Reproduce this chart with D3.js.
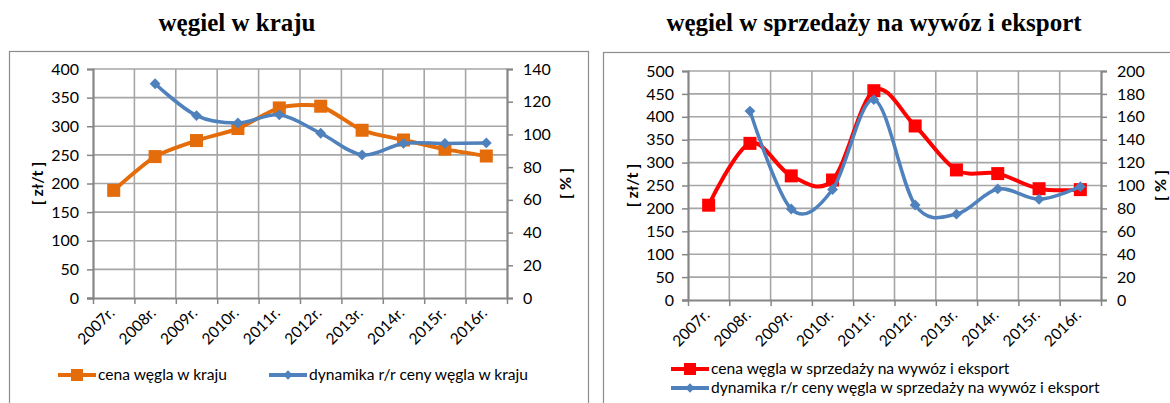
<!DOCTYPE html>
<html>
<head>
<meta charset="utf-8">
<script src="https://cdn.jsdelivr.net/npm/d3@7"></script>
<style>
  body { margin: 0; background: #fff; }
  svg text { font-family: Lato, "Open Sans", sans-serif; fill: #000; }
  .title { font-family: "Liberation Serif", "Times New Roman", serif; font-weight: bold; }
</style>
</head>
<body>
<div id="chart"></div>
<script>
/* Two coal price charts: domestic vs. export */

// Shared categories
const years = ["2007r.", "2008r.", "2009r.", "2010r.", "2011r.", "2012r.", "2013r.", "2014r.", "2015r.", "2016r."];

// Left chart: coal in the country
const cenaKraj = [188, 247, 275, 296, 332, 335, 293, 276, 260, 248];
const dynamikaKraj = [null, 131, 111.5, 107, 112, 100.7, 87.5, 94.5, 94.5, 94.8];
const leftTicksKraj = [0, 50, 100, 150, 200, 250, 300, 350, 400];
const rightTicksKraj = [0, 20, 40, 60, 80, 100, 120, 140];

// Right chart: coal sold for export
const cenaEksport = [207, 342, 271, 262, 457, 380, 284, 276, 243, 241];
const dynamikaEksport = [null, 165, 79.5, 96.5, 175, 83, 75, 97, 88, 99];
const leftTicksEksport = [0, 50, 100, 150, 200, 250, 300, 350, 400, 450, 500];
const rightTicksEksport = [0, 20, 40, 60, 80, 100, 120, 140, 160, 180, 200];

const width = 1170, height = 403;

let svg = d3.select("#chart")
    .append("svg")
    .attr("width", width)
    .attr("height", height);

function drawPanel(cfg) {
    let g = svg.append("g");

    // title above the box
    g.append("text")
        .attr("class", "title")
        .attr("x", cfg.titleX)
        .attr("y", 31)
        .attr("text-anchor", "middle")
        .style("font-size", "25px")
        .text(cfg.title);

    // chart frame (runs off the bottom of the picture)
    g.append("rect")
        .attr("x", cfg.box[0] + 0.5)
        .attr("y", cfg.box[1] + 0.5)
        .attr("width", cfg.box[2])
        .attr("height", cfg.box[3])
        .attr("fill", "none")
        .attr("stroke", "#8c8c8c")
        .attr("stroke-width", 1.2);

    const m = cfg.plot; // left, right, top, bottom

    let x = d3.scaleBand()
        .domain(years)
        .range([m.left, m.right]);

    let y = d3.scaleLinear()
        .domain([0, d3.max(cfg.leftTicks)])
        .range([m.bottom, m.top]);

    let y2 = d3.scaleLinear()
        .domain([0, d3.max(cfg.rightTicks)])
        .range([m.bottom, m.top]);

    // horizontal grid
    g.append("g")
        .selectAll("line")
        .data(cfg.leftTicks.slice(1))
        .join("line")
        .attr("x1", m.left).attr("x2", m.right)
        .attr("y1", d => y(d)).attr("y2", d => y(d))
        .attr("stroke", "#a6a6a6")
        .attr("stroke-width", 1.6);

    // vertical grid at category edges
    g.append("g")
        .selectAll("line")
        .data(years.slice(1))
        .join("line")
        .attr("x1", d => x(d)).attr("x2", d => x(d))
        .attr("y1", m.top).attr("y2", m.bottom)
        .attr("stroke", "#a6a6a6")
        .attr("stroke-width", 1.6);

    // left axis
    let yAxis = g.append("g")
        .attr("transform", `translate(${m.left},0)`)
        .call(d3.axisLeft(y).tickValues(cfg.leftTicks).tickSize(6).tickPadding(8));

    // right axis
    let y2Axis = g.append("g")
        .attr("transform", `translate(${m.right},0)`)
        .call(d3.axisRight(y2).tickValues(cfg.rightTicks).tickSize(6).tickPadding(10));

    // bottom axis, ticks at category edges
    let xEdge = d3.scaleLinear().domain([0, years.length]).range([m.left, m.right]);
    let xAxis = g.append("g")
        .attr("transform", `translate(0,${m.bottom})`)
        .call(d3.axisBottom(xEdge).ticks(years.length).tickSize(6).tickFormat(""));

    for (let a of [yAxis, y2Axis, xAxis]) {
        a.select(".domain").attr("stroke", "#868686").attr("stroke-width", 2.2);
        a.selectAll(".tick line").attr("stroke", "#868686").attr("stroke-width", 1.5);
        a.selectAll("text").style("font-size", "16px").style("font-family", "Lato, sans-serif");
    }
    xAxis.select(".domain").attr("d", `M${m.left - 6},0.5H${m.right}`);

    // rotated year labels
    g.append("g")
        .selectAll("text")
        .data(years)
        .join("text")
        .attr("transform", d => `translate(${x(d) + x.bandwidth() / 2 - 2},${m.bottom + 12}) rotate(-45)`)
        .attr("text-anchor", "end")
        .attr("dy", "0.35em")
        .style("font-size", "15.5px")
        .text(d => d);

    // axis titles
    g.append("text")
        .attr("transform", `translate(${cfg.yTitleX},${(m.top + m.bottom) / 2}) rotate(-90)`)
        .attr("text-anchor", "middle")
        .attr("dy", "0.35em")
        .style("font-size", "16px")
        .style("font-weight", "bold")
        .text("[ zł/t ]");

    g.append("text")
        .attr("transform", `translate(${cfg.y2TitleX},${(m.top + m.bottom) / 2}) rotate(-90)`)
        .attr("text-anchor", "middle")
        .attr("dy", "0.35em")
        .style("font-size", "16px")
        .style("font-weight", "bold")
        .text("[ % ]");

    const cx = i => x(years[i]) + x.bandwidth() / 2;

    // blue dynamics line (right axis)
    let dyn = cfg.dyn.map((v, i) => [i, v]).filter(d => d[1] != null);
    let lineDyn = d3.line()
        .x(d => cx(d[0]))
        .y(d => y2(d[1]))
        .curve(d3.curveCardinal.tension(0));

    // price line (left axis)
    let price = cfg.price.map((v, i) => [i, v]);
    let linePrice = d3.line()
        .x(d => cx(d[0]))
        .y(d => y(d[1]))
        .curve(d3.curveCardinal.tension(cfg.priceTension));

    const drawPrice = () => {
        g.append("path")
            .attr("d", linePrice(price))
            .attr("fill", "none")
            .attr("stroke", cfg.priceColor)
            .attr("stroke-width", 4);
        g.append("g")
            .selectAll("rect")
            .data(price)
            .join("rect")
            .attr("x", d => cx(d[0]) - 6.5)
            .attr("y", d => y(d[1]) - 6.5)
            .attr("width", 13)
            .attr("height", 13)
            .attr("fill", cfg.priceColor);
    };
    const drawDyn = () => {
        g.append("path")
            .attr("d", lineDyn(dyn))
            .attr("fill", "none")
            .attr("stroke", "#4f81bd")
            .attr("stroke-width", 3.5);
        g.append("g")
            .selectAll("path")
            .data(dyn)
            .join("path")
            .attr("d", d3.symbol(d3.symbolDiamond2, 75))
            .attr("transform", d => `translate(${cx(d[0])},${y2(d[1])})`)
            .attr("fill", "#4f81bd");
    };
    drawPrice();
    drawDyn();

    // legend
    let leg = g.append("g");
    for (let item of cfg.legend) {
        let it = leg.append("g").attr("transform", `translate(${item.x},${item.y})`);
        it.append("line")
            .attr("x1", 0).attr("x2", 38)
            .attr("stroke", item.color)
            .attr("stroke-width", 4);
        if (item.marker === "square") {
            it.append("rect")
                .attr("x", 13).attr("y", -6).attr("width", 12).attr("height", 12)
                .attr("fill", item.color);
        } else {
            it.append("path")
                .attr("d", d3.symbol(d3.symbolDiamond2, 55))
                .attr("transform", "translate(19,0)")
                .attr("fill", item.color);
        }
        it.append("text")
            .attr("x", 40)
            .attr("dy", "0.35em")
            .style("font-size", "15.6px")
            .text(item.label);
    }
}

drawPanel({
    title: "węgiel w kraju",
    titleX: 237,
    box: [9, 51, 579, 400],
    plot: { left: 93, right: 507, top: 69, bottom: 298 },
    leftTicks: leftTicksKraj,
    rightTicks: rightTicksKraj,
    price: cenaKraj,
    dyn: dynamikaKraj,
    priceColor: "#e46c0a",
    priceTension: 0.3,
    yTitleX: 37,
    y2TitleX: 565,
    legend: [
        { x: 58, y: 375, color: "#e46c0a", marker: "square", label: "cena węgla w kraju" },
        { x: 269, y: 375, color: "#4f81bd", marker: "diamond", label: "dynamika r/r ceny węgla w kraju" }
    ]
});

drawPanel({
    title: "węgiel w sprzedaży na wywóz i eksport",
    titleX: 874,
    box: [603, 52, 600, 400],
    plot: { left: 688, right: 1101, top: 71, bottom: 300 },
    leftTicks: leftTicksEksport,
    rightTicks: rightTicksEksport,
    price: cenaEksport,
    dyn: dynamikaEksport,
    priceColor: "#ff0000",
    priceTension: 0,
    yTitleX: 632,
    y2TitleX: 1160,
    legend: [
        { x: 671, y: 369, color: "#ff0000", marker: "square", label: "cena węgla w sprzedaży na wywóz i eksport" },
        { x: 671, y: 388, color: "#4f81bd", marker: "diamond", label: "dynamika r/r ceny węgla w sprzedaży na wywóz i eksport" }
    ]
});
</script>
</body>
</html>
